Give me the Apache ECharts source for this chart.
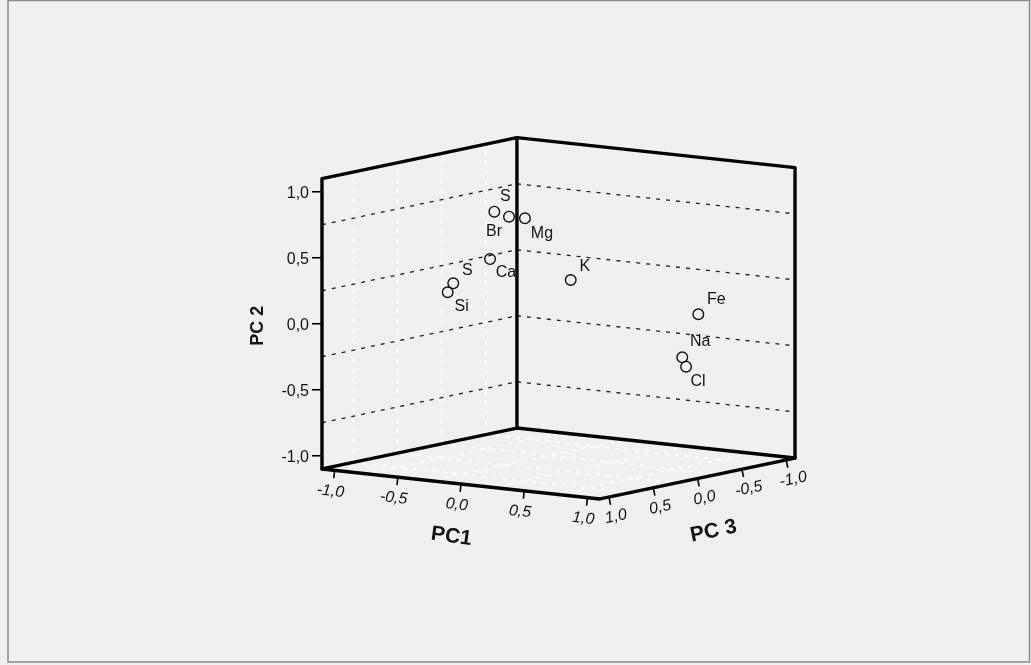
<!DOCTYPE html>
<html><head><meta charset="utf-8">
<script src="https://cdn.jsdelivr.net/npm/echarts@6/dist/echarts.min.js"></script>
<style>html,body{margin:0;padding:0;background:#f0f0f0}#c{width:1031px;height:665px}</style>
</head><body><div id="c"></div>
<script>
// ---------------- data ----------------
const elements = ['S', 'Br', 'Mg', 'Ca', 'K', 'S', 'Si', 'Fe', 'Na', 'Cl'];
const pc1 = [-0.157, -0.041, 0.015, -0.121, 0.307, -0.342, -0.386, 0.896, 0.839, 0.869];
const pc2 = [0.862, 0.836, 0.815, 0.521, 0.364, 0.328, 0.256, 0.081, -0.237, -0.305];
const pc3 = [0.50, 0.50, 0.40, 0.60, 0.30, 0.70, 0.70, -0.30, -0.20, -0.20];
const axisRange = [-1.1, 1.1];
const tickValues = [-1.0, -0.5, 0.0, 0.5, 1.0];
const tickLabels = ['-1,0', '-0,5', '0,0', '0,5', '1,0'];
const gridValues = [-0.75, -0.25, 0.25, 0.75];
const axisNames = ['PC1', 'PC 2', 'PC 3'];

// ---------------- layout / style ----------------
const labelOffsets = [[11, -15], [-15, 15], [17, 15], [16, 14], [14, -13], [14, -13], [14, 14], [18, -15], [18, -16], [12, 15]];
const FONT = 'Liberation Sans, Arial, Helvetica, sans-serif';
const TXT = '#141414';
// oblique parallel projection: view = PC1*u + PC2*v + PC3*w
const VIEW = { ux: 1, uy: -0.1033, wx: -0.701, wy: -0.1409 };
function project(a, b, c) { // a = PC1, b = PC2, c = PC3
  return [a * VIEW.ux + c * VIEW.wx, b + a * VIEW.uy + c * VIEW.wy];
}

function txt(children, text, x, y, opt) {
  opt = opt || {};
  children.push({
    type: 'text', x: x, y: y, rotation: opt.rotation || 0,
    style: {
      text: text, fill: TXT, fontFamily: FONT,
      fontSize: opt.fontSize || 16, fontWeight: opt.fontWeight || 'normal',
      fontStyle: opt.fontStyle || 'normal',
      align: opt.align || 'center', textAlign: opt.align || 'center',
      verticalAlign: 'middle', textVerticalAlign: 'middle'
    }
  });
}
function seg(children, p, q, style) {
  children.push({ type: 'line', shape: { x1: p[0], y1: p[1], x2: q[0], y2: q[1] }, style: style });
}

function wallsItem(params, api) {
  if (params.dataIndex !== 0) return;
  const lo = axisRange[0], hi = axisRange[1];
  const P = (a, b, c) => api.coord(project(a, b, c));
  const ch = [];
  const white = { stroke: '#ffffff', lineWidth: 1.5, lineDash: [4, 6] };
  const dash = { stroke: '#1e1e1e', lineWidth: 1.3, lineDash: [4, 6] };
  gridValues.forEach(g => {
    seg(ch, P(g, lo, lo), P(g, lo, hi), white);
    seg(ch, P(lo, lo, g), P(hi, lo, g), white);
    seg(ch, P(lo, lo, g), P(lo, hi, g), white);
  });
  gridValues.forEach(g => {
    seg(ch, P(lo, g, hi), P(lo, g, lo), dash);
    seg(ch, P(lo, g, lo), P(hi, g, lo), dash);
  });
  return { type: 'group', children: ch };
}

function pointItem(params, api) {
  const i = api.value(3);
  const p = api.coord(project(api.value(0), api.value(1), api.value(2)));
  const ch = [{ type: 'circle', shape: { cx: p[0], cy: p[1], r: 5.3 }, style: { fill: 'transparent', stroke: '#111', lineWidth: 1.4 } }];
  const off = labelOffsets[i];
  txt(ch, elements[i], p[0] + off[0], p[1] + off[1], { fontSize: 16 });
  return { type: 'group', children: ch };
}

function unit(p, q) {
  const dx = q[0] - p[0], dy = q[1] - p[1], n = Math.hypot(dx, dy);
  return [dx / n, dy / n];
}

function boxItem(params, api) {
  if (params.dataIndex !== 0) return;
  const lo = axisRange[0], hi = axisRange[1];
  const P = (a, b, c) => api.coord(project(a, b, c));
  const ch = [];
  const edge = { stroke: '#000', lineWidth: 3.4, lineJoin: 'round', lineCap: 'round', fill: null };
  const tick = { stroke: '#000', lineWidth: 1.6 };
  const LB = P(lo, lo, hi), LT = P(lo, hi, hi), BB = P(lo, lo, lo), BT = P(lo, hi, lo);
  const RB = P(hi, lo, lo), RT = P(hi, hi, lo), FB = P(hi, lo, hi);
  ch.push({ type: 'polyline', shape: { points: [LB, LT, BT, RT, RB] }, style: edge });
  seg(ch, BT, BB, edge);
  ch.push({ type: 'polygon', shape: { points: [LB, FB, RB, BB] }, style: edge });

  // PC2 axis (left front edge)
  tickValues.forEach((t, i) => {
    const p = P(lo, t, hi);
    seg(ch, [p[0] - 10, p[1]], [p[0] - 1, p[1]], tick);
    txt(ch, tickLabels[i], p[0] - 13, p[1] + 2, { align: 'right', fontSize: 16 });
  });
  const mid2 = P(lo, 0, hi);
  txt(ch, axisNames[1], mid2[0] - 64, mid2[1] + 2, { fontSize: 18, fontWeight: 'bold', rotation: Math.PI / 2 });

  // PC1 axis (front-left floor edge)
  const d1 = unit(LB, FB), n1 = [-d1[1], d1[0]], r1 = -Math.atan2(d1[1], d1[0]);
  tickValues.forEach((t, i) => {
    const p = P(t, lo, hi);
    seg(ch, p, [p[0] + n1[0] * 8, p[1] + n1[1] * 8], tick);
    txt(ch, tickLabels[i], p[0] + n1[0] * 21 - d1[0] * 2, p[1] + n1[1] * 21, { fontSize: 16, fontStyle: 'italic', rotation: r1 });
  });
  const mid1 = P(0, lo, hi);
  txt(ch, axisNames[0], mid1[0] + n1[0] * 53 - d1[0] * 4, mid1[1] + n1[1] * 53, { fontSize: 21, fontWeight: 'bold', rotation: r1 - 0.03 });

  // PC3 axis (front-right floor edge)
  const d3 = unit(FB, RB), n3 = [-d3[1], d3[0]], r3 = -Math.atan2(d3[1], d3[0]);
  tickValues.forEach((t, i) => {
    const p = P(hi, lo, t);
    seg(ch, p, [p[0] + n3[0] * 8, p[1] + n3[1] * 8], tick);
    txt(ch, tickLabels[i], p[0] + n3[0] * 20 + d3[0] * 3, p[1] + n3[1] * 20, { fontSize: 16, fontStyle: 'italic', rotation: r3 });
  });
  const mid3 = P(hi, lo, 0);
  txt(ch, axisNames[2], mid3[0] + n3[0] * 54 + d3[0] * 5, mid3[1] + n3[1] * 54, { fontSize: 21, fontWeight: 'bold', rotation: r3 });

  return { type: 'group', children: ch };
}

const chart = echarts.init(document.getElementById('c'));
chart.setOption({
  animation: false,
  backgroundColor: '#f0f0f0',
  graphic: [{
    type: 'rect', silent: true, z: 0,
    shape: { x: 8, y: 0.5, width: 1021.5, height: 661.5 },
    style: { fill: null, stroke: '#8a8a8a', lineWidth: 1.5 }
  }],
  grid: { left: 305.7, top: 54.3, width: 505.6, height: 528 },
  xAxis: { type: 'value', min: -2, max: 2, show: false },
  yAxis: { type: 'value', min: -2, max: 2, show: false },
  series: [
    { type: 'custom', name: 'walls', z: 1, clip: false, renderItem: wallsItem, data: [[0, 0]], silent: true },
    {
      type: 'custom', name: 'loadings', z: 3, clip: false, renderItem: pointItem,
      dimensions: ['PC1', 'PC2', 'PC3', 'idx'], encode: { x: 0, y: 1 },
      data: elements.map((n, i) => [pc1[i], pc2[i], pc3[i], i])
    },
    { type: 'custom', name: 'box', z: 4, clip: false, renderItem: boxItem, data: [[0, 0]], silent: true }
  ]
});
</script>
</body></html>
